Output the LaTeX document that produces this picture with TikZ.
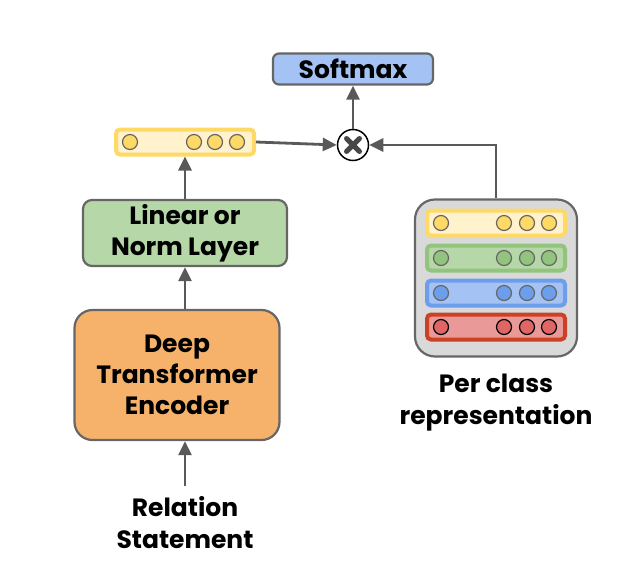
\documentclass[tikz,border=0pt]{standalone}
\usepackage{fontspec}
\setmainfont{Poppins}
\usetikzlibrary{arrows.meta,positioning}

\definecolor{linegray}{HTML}{595959}
\definecolor{boxgray}{HTML}{666666}
\definecolor{softblue}{HTML}{A4C2F4}
\definecolor{layergreen}{HTML}{B6D7A8}
\definecolor{encorange}{HTML}{F6B26B}
\definecolor{panelgray}{HTML}{D9D9D9}
\definecolor{yelout}{HTML}{FFD966}
\definecolor{yelin}{HTML}{FFF2CC}
\definecolor{grnout}{HTML}{93C47D}
\definecolor{grnin}{HTML}{B6D7A8}
\definecolor{bluout}{HTML}{6D9EEB}
\definecolor{bluin}{HTML}{A4C2F4}
\definecolor{redout}{HTML}{CC4125}
\definecolor{redin}{HTML}{EA9999}
\definecolor{reddot}{HTML}{E06666}

\tikzset{
	block/.style={draw=boxgray, line width=2.2pt, rounded corners=6pt, align=center,
		inner sep=0pt, font=\fontsize{25}{31}\selectfont\bfseries},
	conn/.style={draw=linegray, line width=2.8pt, -{Triangle[length=14pt,width=13pt]}},
	vecrow/.style={draw=#1, line width=4pt, rounded corners=4pt, minimum height=25pt, inner sep=0pt},
	dot/.style={circle, draw=#1, line width=1.2pt, minimum size=15pt, inner sep=0pt},
	caption/.style={align=center, font=\fontsize{25}{32}\selectfont\bfseries}
}

\begin{document}
\begin{tikzpicture}[x=1pt, y=-1pt]
	\useasboundingbox (0,0) rectangle (644,568);

	% left column
	\node[block, fill=encorange, minimum width=205pt, minimum height=130pt, rounded corners=18pt] (enc) at (177,375) {Deep\\Transformer\\Encoder};
	\node[block, fill=layergreen, minimum width=204pt, minimum height=66pt, rounded corners=9pt] (lin) at (185,233) {Linear or\\Norm Layer};
	\node[vecrow=yelout, fill=yelin, minimum width=138pt] (emb) at (185,142) {};
	\foreach \x/\n in {130/a, 194/b, 215/c, 237/d}
		\node[dot=boxgray, fill=yelout] (emb\n) at (\x,142) {};
	\node[caption] (rel) at (185,523) {Relation\\Statement};
	\coordinate (relin) at (185,486);

	% top
	\node[block, fill=softblue, minimum width=160pt, minimum height=31pt, font=\fontsize{25}{26}\selectfont\bfseries] (soft) at (353,69) {Softmax};
	\node[circle, draw=black, fill=white, line width=1.5pt, minimum size=31pt, inner sep=0pt] (mul) at (353,145) {};
	\draw[linegray!80!black, line width=5pt, line cap=round] ([shift={(-6.5pt,-6.5pt)}]mul.center) -- ([shift={(6.5pt,6.5pt)}]mul.center);
	\draw[linegray!80!black, line width=5pt, line cap=round] ([shift={(-6.5pt,6.5pt)}]mul.center) -- ([shift={(6.5pt,-6.5pt)}]mul.center);

	% per class panel
	\node[draw=boxgray, fill=panelgray, line width=2.2pt, rounded corners=20pt, minimum width=162pt, minimum height=157pt] (panel) at (496,278) {};
	\foreach \r/\y/\o/\i/\d/\e in {1/223/yelout/yelin/yelout/boxgray, 2/258/grnout/grnin/grnout/boxgray, 3/293/bluout/bluin/bluout/boxgray, 4/327/redout/redin/reddot/black} {
		\node[vecrow=\o, fill=\i, minimum width=138pt] (row\r) at (496,\y) {};
		\foreach \x in {441, 504, 527, 549}
			\node[dot=\e, fill=\d] at (\x,\y) {};
	}
	\node[caption] (pcr) at (496,403) {Per class\\representation};

	% connectors
	\draw[conn] (relin) -- (relin |- enc.south);
	\draw[conn] (enc.north -| lin) -- (lin.south);
	\draw[conn] (lin.north) -- (emb.south);
	\draw[conn] (emb.east) -- (mul.west);
	\draw[conn] (mul.north) -- (soft.south);
	\draw[conn] (panel.north) |- (mul.east);
\end{tikzpicture}
\end{document}
